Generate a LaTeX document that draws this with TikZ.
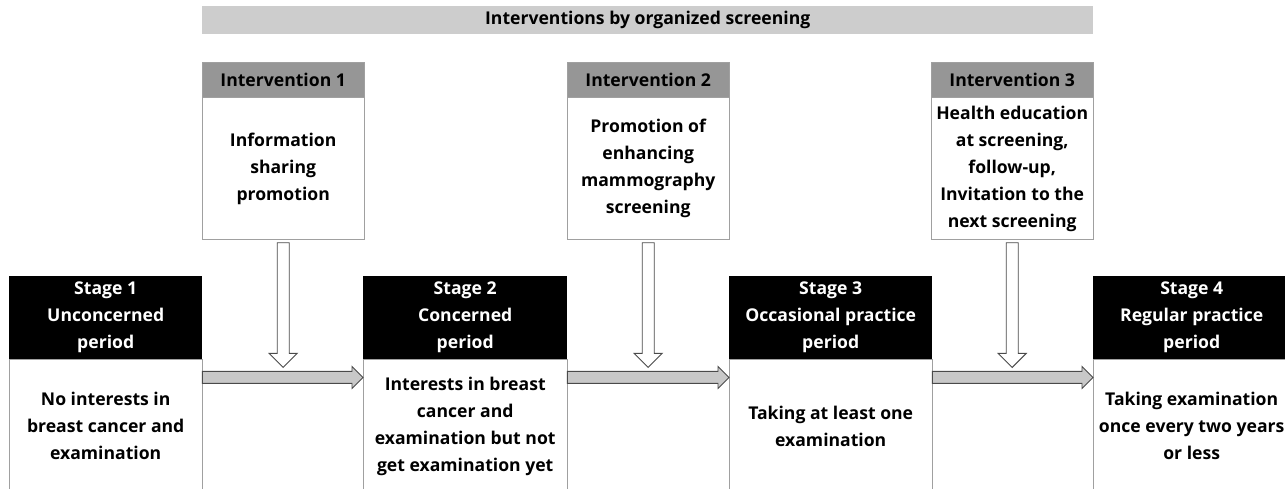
\documentclass[tikz,border=0pt]{standalone}
\usepackage{fontspec}
\setmainfont{Open Sans}
\usetikzlibrary{positioning,calc}

\definecolor{bannergray}{HTML}{CDCDCD}
\definecolor{headgray}{HTML}{969696}
\definecolor{boxgray}{HTML}{A0A0A0}
\definecolor{arrowgray}{HTML}{C8C8C8}
\definecolor{edgegray}{HTML}{4A4A4A}

\tikzset{
  txt/.style={font=\bfseries\fontsize{17.6}{27}\selectfont, align=center, inner sep=0pt},
  banner/.style={txt, fill=bannergray, minimum width=891pt, minimum height=28pt, anchor=north west},
  ihead/.style={txt, draw=boxgray, fill=headgray, minimum width=162pt, minimum height=35pt},
  ibody/.style={txt, draw=boxgray, fill=white, minimum width=162pt, minimum height=142pt},
  shead/.style={txt, fill=black, text=white, minimum height=83pt},
  sbody/.style={txt, draw=boxgray, fill=white, minimum height=133pt},
  blk/.style={draw=edgegray, line width=0.9pt, line join=miter}
}

% block arrows between named nodes
\newcommand{\harrow}[2]{%
  \path[blk, fill=arrowgray] let \p1=([yshift=-18pt]#1.south east), \p2=([yshift=-18pt]#2.south west) in
    (\x1,\y1+6pt) -- (\x2-11pt,\y1+6pt) -- (\x2-11pt,\y1+11pt) -- (\x2,\y1)
    -- (\x2-11pt,\y1-11pt) -- (\x2-11pt,\y1-6pt) -- (\x1,\y1-6pt) -- cycle;}
\newcommand{\varrow}[2]{%
  \path[blk, fill=white] let \p1=([yshift=-3pt]#1.south), \p2=([yshift=-8pt]#2.south) in
    (\x1-6pt,\y1) -- (\x1-6pt,\y2+14pt) -- (\x1-14pt,\y2+14pt) -- (\x1,\y2)
    -- (\x1+14pt,\y2+14pt) -- (\x1+6pt,\y2+14pt) -- (\x1+6pt,\y1) -- cycle;}

\begin{document}
\begin{tikzpicture}[x=1pt,y=1pt]
  \useasboundingbox (0,0) rectangle (1285,-489);

  \node[banner] (top) at (202,-6) {Interventions by organized screening};

  % interventions
  \node[ihead, anchor=north west] (ih1) at (202,-62) {Intervention 1};
  \node[ibody, below=0pt of ih1] (ib1) {Information\\sharing\\promotion};
  \node[ihead, anchor=north west] (ih2) at (567,-62) {Intervention 2};
  \node[ibody, below=0pt of ih2] (ib2) {Promotion of\\enhancing\\mammography\\screening};
  \node[ihead, anchor=north west] (ih3) at (931,-62) {Intervention 3};
  \node[ibody, below=0pt of ih3] (ib3) {Health education\\at screening,\\follow-up,\\Invitation to the\\next screening};

  % stages
  \node[shead, minimum width=193pt, anchor=north west] (sh1) at (9,-276) {Stage 1\\Unconcerned\\period};
  \node[sbody, minimum width=193pt, below=0pt of sh1] (sb1) {No interests in\\breast cancer and\\examination};
  \node[shead, minimum width=204pt, anchor=north west] (sh2) at (363,-276) {Stage 2\\Concerned\\period};
  \node[sbody, minimum width=204pt, below=0pt of sh2] (sb2) {Interests in breast\\cancer and\\examination but not\\get examination yet};
  \node[shead, minimum width=203pt, anchor=north west] (sh3) at (729,-276) {Stage 3\\Occasional practice\\period};
  \node[sbody, minimum width=203pt, below=0pt of sh3] (sb3) {Taking at least one\\examination};
  \node[shead, minimum width=197pt, anchor=north west] (sh4) at (1093,-276) {Stage 4\\Regular practice\\period};
  \node[sbody, minimum width=197pt, below=0pt of sh4] (sb4) {Taking examination\\once every two years\\or less};

  \harrow{sh1}{sh2}
  \harrow{sh2}{sh3}
  \harrow{sh3}{sh4}
  \varrow{ib1}{sh1}
  \varrow{ib2}{sh2}
  \varrow{ib3}{sh3}
\end{tikzpicture}
\end{document}
